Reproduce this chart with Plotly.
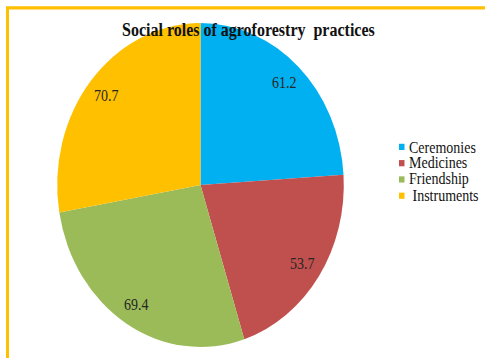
import math
import plotly.graph_objects as go

# Social roles of agroforestry practices
categories = ["Ceremonies", "Medicines", "Friendship", "Instruments"]
values = [61.2, 53.7, 69.4, 70.7]
colors = ["#00B0F0", "#C0504D", "#9BBB59", "#FFC000"]
legend_names = ["Ceremonies", "Medicines", "Friendship", "\u00a0Instruments"]

W, H = 485, 317          # drawn size before the vertical stretch
STRETCH = 1.13           # page-level vertical stretch of the figure
FONT = "Liberation Serif, Times New Roman, serif"

# pie placement (pixels, measured from top-left)
pie_left, pie_right = 57, 344
pie_top, pie_bottom = 20.4, 307.0
dom_x = [pie_left / W, pie_right / W]
dom_y = [1 - pie_bottom / H, 1 - pie_top / H]

fig = go.Figure(
    go.Pie(
        labels=categories,
        values=values,
        marker=dict(colors=colors, line=dict(width=0)),
        sort=False,
        direction="clockwise",
        rotation=0,
        textinfo="none",
        hoverinfo="label+value",
        showlegend=False,
        domain=dict(x=dom_x, y=dom_y),
    )
)

# value labels along each slice bisector, near the rim
cx = (pie_left + pie_right) / 2
cy = (pie_top + pie_bottom) / 2
r = (pie_right - pie_left) / 2
total = sum(values)
annotations = []
start = 0.0
for v in values:
    mid = (start + v / 2) / total * 2 * math.pi
    start += v
    px = cx + 0.86 * r * math.sin(mid)
    py = cy - 0.86 * r * math.cos(mid)
    annotations.append(dict(
        x=px / W, y=1 - py / H, xref="paper", yref="paper",
        text=f"{v:.1f}", showarrow=False,
        font=dict(family=FONT, size=14, color="#262626"),
        xanchor="center", yanchor="middle",
    ))

# legend: colour square + name
shapes = []
leg_x, leg_y0, leg_step, sq = 399, 130, 14.4, 5.5
for i, (name, col) in enumerate(zip(legend_names, colors)):
    yc = leg_y0 + i * leg_step
    shapes.append(dict(
        type="rect", xref="paper", yref="paper",
        x0=leg_x / W, x1=(leg_x + sq) / W,
        y0=1 - (yc + sq / 2) / H, y1=1 - (yc - sq / 2) / H,
        fillcolor=col, line=dict(width=0),
    ))
    annotations.append(dict(
        x=(leg_x + sq + 2) / W, y=1 - yc / H, xref="paper", yref="paper",
        text=name, showarrow=False,
        font=dict(family=FONT, size=14, color="#111111"),
        xanchor="left", yanchor="middle",
    ))

# title
annotations.append(dict(
    x=249 / W, y=1 - 26.5 / H, xref="paper", yref="paper",
    text="<b>Social roles of agroforestry\u00a0 practices</b>", showarrow=False,
    font=dict(family=FONT, size=16, color="#111111"),
    xanchor="center", yanchor="middle",
))

# gold frame (open to the right and bottom)
shapes.append(dict(
    type="rect", xref="paper", yref="paper",
    x0=7.5 / W, x1=1.05, y0=-0.05, y1=1 - 7 / H,
    line=dict(color="#FFC000", width=3), fillcolor="rgba(0,0,0,0)",
))

fig.update_layout(
    width=W, height=H,
    margin=dict(l=0, r=0, t=0, b=0),
    paper_bgcolor="white", plot_bgcolor="white",
    annotations=annotations, shapes=shapes,
    font=dict(family=FONT),
)

post = (
    "document.body.style.margin='0';"
    "document.body.style.overflow='hidden';"
    "var d=document.getElementById('{plot_id}');"
    "d.style.transformOrigin='0 0';"
    f"d.style.transform='scaleY({STRETCH})';"
)
fig.write_html("out.html", config={"displayModeBar": False}, post_script=post)
